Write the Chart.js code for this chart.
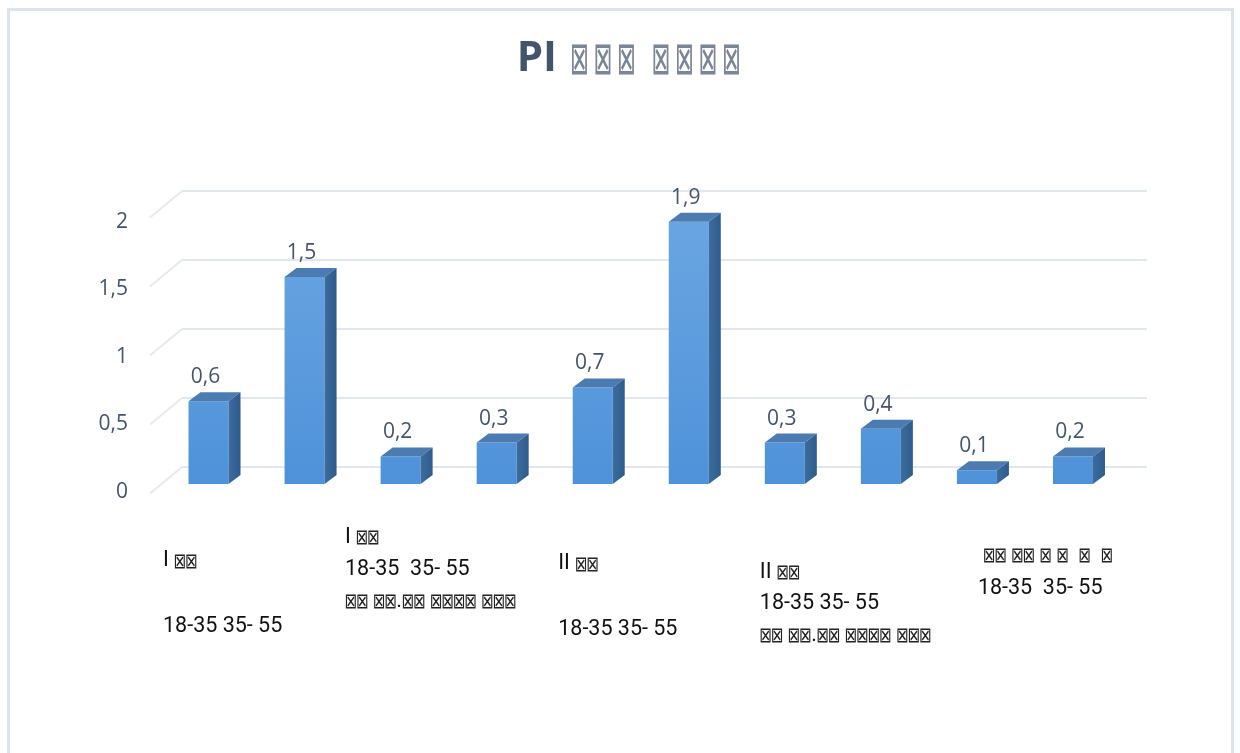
<!DOCTYPE html>
<html>
<head>
<meta charset="utf-8">
<script src="https://cdn.jsdelivr.net/npm/chart.js@4.4.1/dist/chart.umd.min.js"></script>
<style>
  html, body { margin: 0; padding: 0; background: #fff; overflow: hidden; }
  canvas { display: block; }
</style>
</head>
<body>
<canvas id="c" width="1240" height="753"></canvas>
<script>
// ---- data ----
const categories = ['I 18-35', 'I 35-55', 'I* 18-35', 'I* 35-55', 'II 18-35', 'II 35-55', 'II* 18-35', 'II* 35-55', 'III 18-35', 'III 35-55'];
const values = [0.6, 1.5, 0.2, 0.3, 0.7, 1.9, 0.3, 0.4, 0.1, 0.2];
const yTickValues = [0, 0.5, 1, 1.5, 2];
const yTickLabels = ['0', '0,5', '1', '1,5', '2'];
const titleText = 'PI ⊠⊠⊠ ⊠⊠⊠⊠';
const groupLines = [
  ['I ⊠⊠', '', '18-35 35- 55'],
  ['I ⊠⊠', '18-35  35- 55', '⊠⊠ ⊠⊠.⊠⊠ ⊠⊠⊠⊠ ⊠⊠⊠'],
  ['II ⊠⊠', '', '18-35 35- 55'],
  ['II ⊠⊠', '18-35 35- 55', '⊠⊠ ⊠⊠.⊠⊠ ⊠⊠⊠⊠ ⊠⊠⊠'],
  [' ⊠⊠ ⊠⊠ ⊠ ⊠  ⊠  ⊠', '18-35  35- 55']
];

// ---- layout / style ----
const groupLayout = [
  { dx: -45.5, y: 561, lh: 33 },
  { dx: -55.6, y: 537.5, lh: 32 },
  { dx: -34.5, y: 564, lh: 33 },
  { dx: -25, y: 572.5, lh: 31.5 },
  { dx: 1, y: 555, lh: 34 }
];
const TEXT_BLUE = '#44546A';
const DEPTH_X = 12, DEPTH_Y = 9;
const BOX = '⊠';

function drawBox(ctx, cx, cy, w, h, color) {
  ctx.save();
  ctx.font = '100px "DejaVu Sans"';
  ctx.textBaseline = 'alphabetic';
  ctx.textAlign = 'left';
  const m = ctx.measureText(BOX);
  const l = m.actualBoundingBoxLeft, r = m.actualBoundingBoxRight;
  const a = m.actualBoundingBoxAscent, d = m.actualBoundingBoxDescent;
  ctx.translate(cx, cy);
  ctx.scale(w / (l + r), h / (a + d));
  ctx.fillStyle = color;
  ctx.fillText(BOX, -(r - l) / 2, (a - d) / 2);
  ctx.restore();
}

// draws text where ⊠ glyphs get their own box size; returns the run width
function drawMixed(ctx, text, x, y, o, dry) {
  ctx.save();
  ctx.textBaseline = 'middle';
  ctx.textAlign = 'left';
  let cx = x;
  for (const p of text.split(/(⊠)/)) {
    if (!p) continue;
    if (p === BOX) {
      if (!dry) drawBox(ctx, cx + o.boxAdv / 2, y, o.boxW, o.boxH, o.boxColor);
      cx += o.boxAdv;
    } else {
      ctx.font = o.font;
      ctx.fillStyle = o.color;
      if (!dry) ctx.fillText(p, cx, y);
      cx += ctx.measureText(p).width;
    }
  }
  ctx.restore();
  return cx - x;
}

const decorations = {
  id: 'decorations',
  beforeDraw(chart) {
    const ctx = chart.ctx;
    ctx.save();
    ctx.fillStyle = '#ffffff';
    ctx.fillRect(0, 0, chart.width, chart.height);
    // outer frame (left, top, right)
    ctx.strokeStyle = '#dde3ea';
    ctx.lineWidth = 3;
    ctx.beginPath();
    ctx.moveTo(8.5, chart.height);
    ctx.lineTo(8.5, 9.5);
    ctx.lineTo(1232.5, 9.5);
    ctx.lineTo(1232.5, chart.height);
    ctx.stroke();
    ctx.restore();
  },
  beforeDatasetsDraw(chart) {
    const ctx = chart.ctx, area = chart.chartArea, ys = chart.scales.y, xs = chart.scales.x;
    ctx.save();
    // back wall gridlines with floor diagonals
    yTickValues.forEach((v, i) => {
      const py = ys.getPixelForValue(v);
      ctx.lineWidth = 2;
      ctx.strokeStyle = '#e6eaf0';
      ctx.beginPath();
      ctx.moveTo(area.left - 10.5, py + 9.5);
      ctx.lineTo(area.left + 21.5, py - 17);
      ctx.stroke();
      ctx.strokeStyle = '#e2e7ee';
      ctx.beginPath();
      ctx.moveTo(area.left + 21.5, py - 17);
      ctx.lineTo(area.right + 26, py - 17);
      ctx.stroke();
      // tick label
      ctx.font = '21px "Open Sans"';
      ctx.fillStyle = TEXT_BLUE;
      ctx.textAlign = 'right';
      ctx.textBaseline = 'middle';
      ctx.fillText(yTickLabels[i], 128, py + 7.7 + 3 * v);
    });

    // title
    const tOpt = { font: 'bold 42px "Open Sans"', color: TEXT_BLUE, boxW: 15, boxH: 31, boxAdv: 23.5, boxColor: '#7a8596' };
    const tw = drawMixed(ctx, titleText, 0, 0, tOpt, true);
    drawMixed(ctx, titleText, 630 - tw / 2, 59, tOpt);

    // category group labels, each under its pair of bars
    const lOpt = { font: '21.5px Roboto', color: '#111111', boxW: 10, boxH: 14, boxAdv: 11.5, boxColor: '#222222' };
    groupLines.forEach((lines, g) => {
      const lay = groupLayout[g];
      const x0 = xs.getPixelForValue(g * 2) + lay.dx;
      lines.forEach((line, k) => {
        if (line) drawMixed(ctx, line, x0, lay.y + k * lay.lh, lOpt);
      });
    });
    ctx.restore();
  },
  afterDatasetsDraw(chart) {
    const ctx = chart.ctx, base = chart.scales.y.getPixelForValue(0);
    const meta = chart.getDatasetMeta(0);
    ctx.save();
    meta.data.forEach((bar, i) => {
      const w = bar.width, xl = bar.x - w / 2, xr = bar.x + w / 2, yt = bar.y;
      // top face
      ctx.fillStyle = '#4c7bb1';
      ctx.beginPath();
      ctx.moveTo(xl, yt);
      ctx.lineTo(xl + DEPTH_X, yt - DEPTH_Y);
      ctx.lineTo(xr + DEPTH_X, yt - DEPTH_Y);
      ctx.lineTo(xr, yt);
      ctx.closePath();
      ctx.fill();
      // side face
      const g = ctx.createLinearGradient(xr, 0, xr + DEPTH_X, 0);
      g.addColorStop(0, '#3c6c9f');
      g.addColorStop(1, '#2f5b8b');
      ctx.fillStyle = g;
      ctx.beginPath();
      ctx.moveTo(xr, yt);
      ctx.lineTo(xr + DEPTH_X, yt - DEPTH_Y);
      ctx.lineTo(xr + DEPTH_X, base - DEPTH_Y);
      ctx.lineTo(xr, base);
      ctx.closePath();
      ctx.fill();
      // value label
      ctx.font = '21px "Open Sans"';
      ctx.fillStyle = TEXT_BLUE;
      ctx.textAlign = 'center';
      ctx.textBaseline = 'middle';
      ctx.fillText(values[i].toFixed(1).replace('.', ','), bar.x - 3, yt - 24);
    });
    ctx.restore();
  }
};

new Chart(document.getElementById('c'), {
  type: 'bar',
  data: {
    labels: categories,
    datasets: [{
      data: values,
      backgroundColor: (c) => {
        const area = c.chart.chartArea;
        if (!area) return '#5b9bd5';
        const g = c.chart.ctx.createLinearGradient(0, area.top, 0, area.bottom);
        g.addColorStop(0, '#6ba6e2');
        g.addColorStop(1, '#4f92d9');
        return g;
      },
      borderWidth: 0,
      barPercentage: 0.4165,
      categoryPercentage: 1
    }]
  },
  options: {
    responsive: false,
    animation: false,
    devicePixelRatio: 1,
    layout: { padding: { left: 160.5, right: 119, top: 208, bottom: 269 } },
    plugins: { legend: { display: false }, title: { display: false }, tooltip: { enabled: false } },
    scales: {
      x: { display: false, offset: true },
      y: {
        display: false, min: 0, max: 2,
        afterBuildTicks: (s) => { s.ticks = yTickValues.map(v => ({ value: v })); }
      }
    }
  },
  plugins: [decorations]
});
</script>
</body>
</html>
